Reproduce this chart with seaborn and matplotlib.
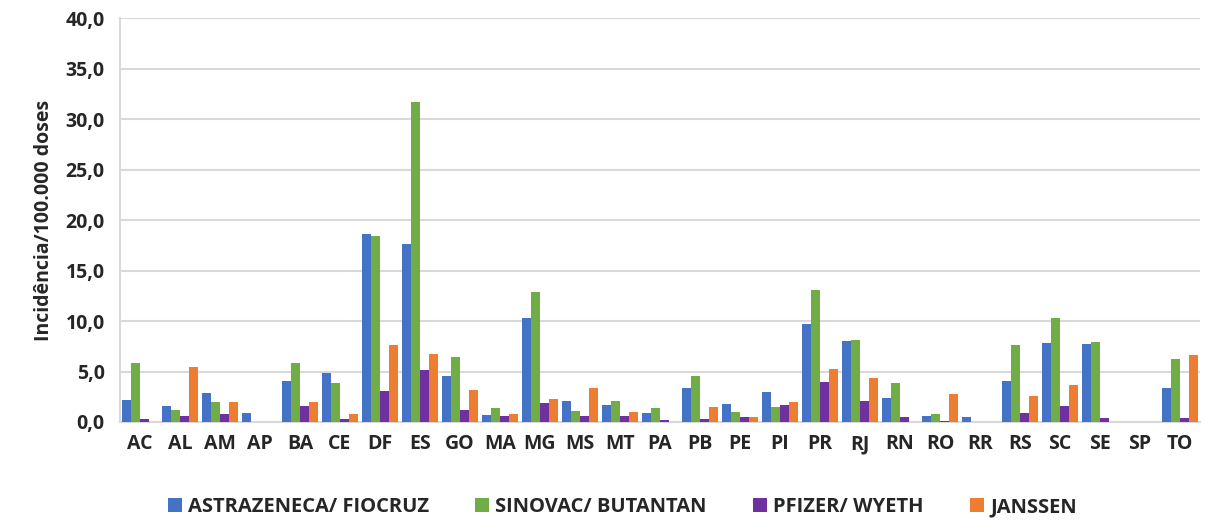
import pandas as pd
import matplotlib
matplotlib.use("Agg")
import matplotlib.pyplot as plt
from matplotlib.ticker import FuncFormatter, MultipleLocator
import seaborn as sns

# Data
states = ["AC", "AL", "AM", "AP", "BA", "CE", "DF", "ES", "GO", "MA", "MG", "MS", "MT", "PA",
          "PB", "PE", "PI", "PR", "RJ", "RN", "RO", "RR", "RS", "SC", "SE", "SP", "TO"]
astrazeneca = [2.2, 1.6, 2.9, 0.9, 4.1, 4.9, 18.6, 17.6, 4.6, 0.7, 10.3, 2.1, 1.7, 0.9,
               3.4, 1.8, 3.0, 9.7, 8.0, 2.4, 0.6, 0.5, 4.1, 7.8, 7.7, 0.0, 3.4]
sinovac = [5.8, 1.2, 2.0, 0.0, 5.8, 3.9, 18.4, 31.7, 6.4, 1.4, 12.9, 1.1, 2.1, 1.4,
           4.6, 1.0, 1.5, 13.1, 8.1, 3.9, 0.8, 0.0, 7.6, 10.3, 7.9, 0.0, 6.2]
pfizer = [0.3, 0.6, 0.8, 0.0, 1.6, 0.3, 3.1, 5.1, 1.2, 0.6, 1.9, 0.6, 0.6, 0.2,
          0.3, 0.5, 1.7, 4.0, 2.1, 0.5, 0.1, 0.0, 0.9, 1.6, 0.4, 0.0, 0.4]
janssen = [0.0, 5.4, 2.0, 0.0, 2.0, 0.8, 7.6, 6.7, 3.2, 0.8, 2.3, 3.4, 1.0, 0.0,
           1.5, 0.5, 2.0, 5.2, 4.4, 0.0, 2.8, 0.0, 2.6, 3.7, 0.0, 0.0, 6.6]
vaccines = ["ASTRAZENECA/ FIOCRUZ", "SINOVAC/ BUTANTAN", "PFIZER/ WYETH", "JANSSEN"]
colors = ["#4472C4", "#70AD47", "#7030A0", "#ED7D31"]

df = pd.DataFrame({"UF": states, vaccines[0]: astrazeneca, vaccines[1]: sinovac,
                   vaccines[2]: pfizer, vaccines[3]: janssen})
long_df = df.melt(id_vars="UF", var_name="Vacina", value_name="Incidencia")

sns.set_style("white")
plt.rcParams["font.family"] = ["Open Sans", "DejaVu Sans"]
plt.rcParams["font.weight"] = "bold"

fig, ax = plt.subplots(figsize=(12.06, 5.2), dpi=100)
fig.subplots_adjust(left=0.0995, right=0.995, top=0.965, bottom=0.1885)

sns.barplot(data=long_df, x="UF", y="Incidencia", hue="Vacina", hue_order=vaccines,
            palette=colors, width=0.9, saturation=1, linewidth=0, ax=ax, zorder=3)

ax.set_ylim(0, 40)
ax.set_xlim(-0.5, len(states) - 0.5)
ax.yaxis.set_major_locator(MultipleLocator(5))
ax.yaxis.set_major_formatter(FuncFormatter(lambda v, p: f"{v:.1f}".replace(".", ",")))
ax.grid(axis="y", color="#d9d9d9", linewidth=1.5, zorder=0)
ax.set_axisbelow(True)

for s in ["top", "right"]:
    ax.spines[s].set_visible(False)
ax.spines["left"].set_color("#d9d9d9")
ax.spines["left"].set_linewidth(1.5)
ax.spines["bottom"].set_color("#d9d9d9")
ax.spines["bottom"].set_linewidth(1.5)

ax.tick_params(axis="y", length=7, width=1.2, color="#d9d9d9", labelsize=14, pad=4)
ax.tick_params(axis="x", length=0, labelsize=14, pad=9)
for lbl in ax.get_xticklabels() + ax.get_yticklabels():
    lbl.set_fontweight("bold")

ax.set_xlabel("")
ax.set_ylabel("Incidência/100.000 doses", fontsize=14, fontweight="bold", labelpad=8)

handles, labels = ax.get_legend_handles_labels()
ax.legend_.remove()
fig.legend(handles, labels, loc="center", bbox_to_anchor=(0.516, 0.025), ncol=4, frameon=False,
           handlelength=0.7, handleheight=0.7, handletextpad=0.3,
           columnspacing=2.3, prop={"family": ["Open Sans", "DejaVu Sans"], "weight": "bold", "size": 14.5})

fig.savefig("out.png", dpi=100)
